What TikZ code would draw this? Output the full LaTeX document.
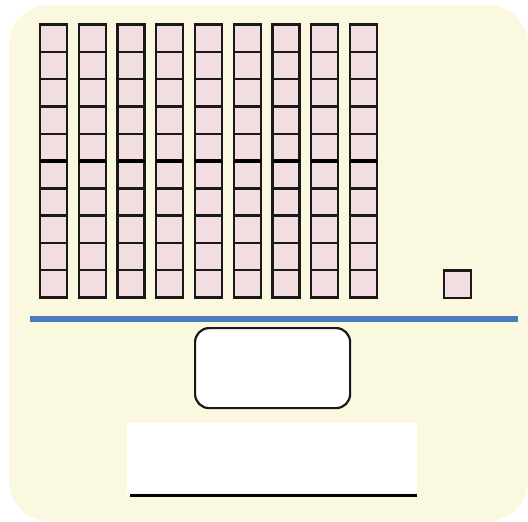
\documentclass[tikz,border=0pt]{standalone}
\definecolor{cream}{HTML}{FAF8DF}
\definecolor{pinkcell}{HTML}{F2DDE1}
\definecolor{blueline}{HTML}{4A7DBE}
\begin{document}
\begin{tikzpicture}[x=1pt,y=-1pt,
  bg/.style={fill=cream,draw=none,rounded corners=40pt},
  cell/.style={draw=black!90,fill=pinkcell,line width=2.4pt,minimum width=27pt,minimum height=27.3pt,inner sep=0pt,outer sep=0pt,anchor=north west},
  tenline/.style={line width=4pt,black},
  divider/.style={line width=5.5pt,blueline},
  answerbox/.style={draw=black!90,fill=white,line width=2.2pt,rounded corners=14pt},
  writebox/.style={fill=white,draw=none},
  baseline/.style={line width=2.2pt,black}]
\useasboundingbox (0,0) rectangle (528,522);
\fill[bg] (9,5) rectangle (528,521);
\foreach \i in {0,...,8}{
  \foreach \j in {0,...,9}{
    \node[cell] (c-\i-\j) at ({40+38.75*\i},{24.5+27.3*\j}) {};
  }
  \draw[tenline] (c-\i-4.south west) -- (c-\i-4.south east);
}
\node[cell] (one) at (444,270.5) {};
\coordinate (dl) at (30,319);
\coordinate (dr) at (518,319);
\draw[divider] (dl) -- (dr);
\node[answerbox,minimum width=155pt,minimum height=80pt,anchor=north west] (ans) at (194,327) {};
\node[writebox,minimum width=290pt,minimum height=70pt,anchor=north west,inner sep=0pt] (wr) at (127,423) {};
\coordinate (bl) at (130,495.5);
\coordinate (br) at (417,495.5);
\draw[baseline] (bl) -- (br);
\end{tikzpicture}
\end{document}
